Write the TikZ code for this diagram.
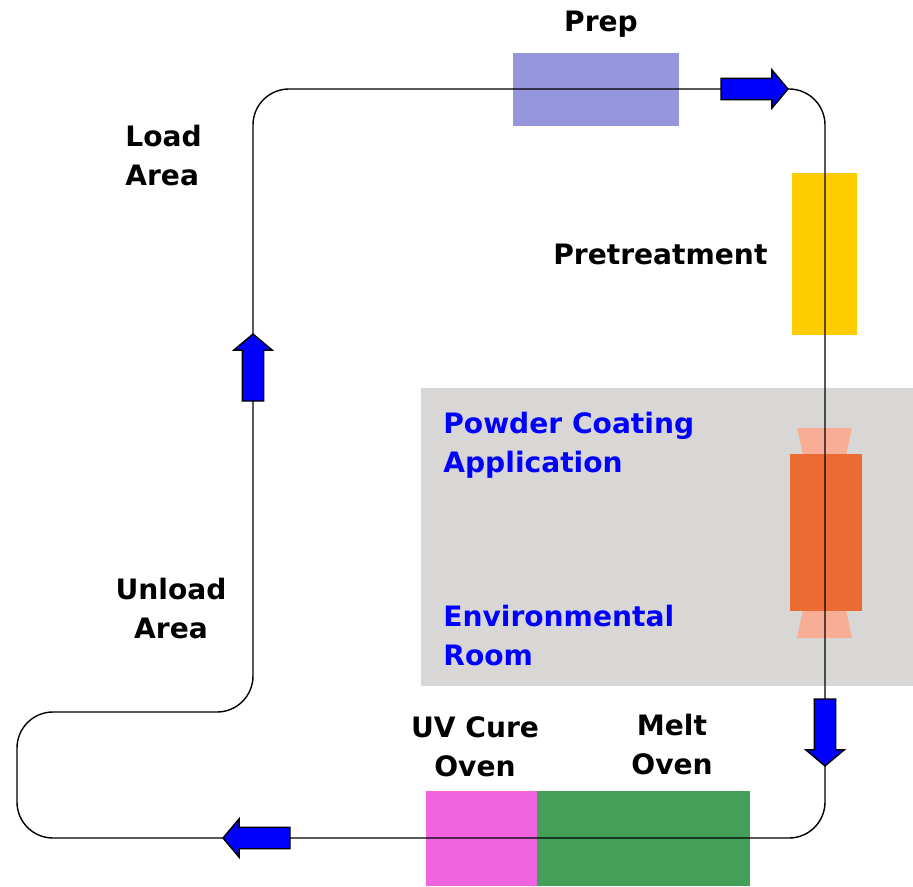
\documentclass[tikz,border=0pt]{standalone}
\usepackage{fontspec}
\setmainfont{DejaVu Sans}
\usepackage{tikz}
\usetikzlibrary{shapes.arrows, positioning}
\definecolor{myblue}{RGB}{0,0,255}
\definecolor{myprep}{RGB}{150,150,220}
\definecolor{myyellow}{RGB}{255,204,0}
\definecolor{myroom}{RGB}{217,215,213}
\definecolor{myorange}{RGB}{236,106,52}
\definecolor{mysalmon}{RGB}{248,174,148}
\definecolor{mypink}{RGB}{240,100,224}
\definecolor{mygreen}{RGB}{68,160,88}
\tikzset{
  station/.style={rectangle, draw=none, inner sep=0pt},
  lbl/.style={font=\fontsize{16}{22}\selectfont\bfseries, inner sep=0pt},
  bluelbl/.style={lbl, text=myblue},
  flow/.style={single arrow, fill=myblue, draw=black, line width=0.8pt,
    minimum height=1.34cm, minimum width=0.74cm, single arrow tip angle=100,
    single arrow head extend=0.17cm, inner xsep=0pt, inner ysep=0.2cm},
  conveyor/.style={draw=black, line width=0.8pt, rounded corners=0.72cm}
}

\begin{document}
\begin{tikzpicture}[x=0.02cm, y=-0.02cm]
  \useasboundingbox (0,0) rectangle (913,886);

  % coating room
  \node[station, fill=myroom, minimum width=9.84cm, minimum height=5.96cm] (room) at (667,537) {};

  % stations
  \node[station, fill=myprep, minimum width=3.32cm, minimum height=1.46cm] (prep) at (596,89.5) {};
  \node[station, fill=myyellow, minimum width=1.3cm, minimum height=3.24cm] (pretreat) at (824.5,254) {};
  \fill[mysalmon] (797,428) -- (852,428) -- (846,455) -- (803,455) -- cycle;
  \fill[mysalmon] (803,610) -- (846,610) -- (852,638) -- (797,638) -- cycle;
  \node[station, fill=myorange, minimum width=1.44cm, minimum height=3.14cm] (booth) at (826,532.5) {};
  \node[station, fill=mypink, minimum width=2.22cm, minimum height=1.9cm] (uvoven) at (481.5,838.5) {};
  \node[station, fill=mygreen, minimum width=4.26cm, minimum height=1.9cm] (meltoven) at (643.5,838.5) {};

  % conveyor loop
  \coordinate (start) at (400,89);
  \coordinate (tr) at (825,89);
  \coordinate (br) at (825,838);
  \coordinate (bl) at (17,838);
  \coordinate (ml) at (17,712);
  \coordinate (mr) at (253,712);
  \coordinate (tl) at (253,89);
  \draw[conveyor] (start) -- (tr) -- (br) -- (bl) -- (ml) -- (mr) -- (tl) -- (start);

  % direction arrows
  \node[flow] (fwdtop) at (750,89) {};
  \node[flow, rotate=-90] (fwdright) at (825,728) {};
  \node[flow, rotate=180] (fwdbottom) at (261,838) {};
  \node[flow, rotate=90] (fwdleft) at (253,372) {};

  % labels
  \node[lbl, anchor=base] (preplbl) at (601,31) {Prep};
  \node[lbl, anchor=base west] (pretreatlbl) at (553,264) {Pretreatment};
  \node[lbl, align=left, anchor=base west] (loadlbl) at (125,185) {Load\\Area};
  \node[lbl, align=center, anchor=base] (unloadlbl) at (171,638) {Unload\\Area};
  \node[bluelbl, align=left, anchor=base west] (coatlbl) at (443,472) {Powder Coating\\Application};
  \node[bluelbl, align=left, anchor=base west] (envlbl) at (443,665) {Environmental\\Room};
  \node[lbl, align=center, anchor=base] (uvlbl) at (475,776) {UV Cure\\Oven};
  \node[lbl, align=center, anchor=base] (meltlbl) at (672,774) {Melt\\Oven};
\end{tikzpicture}
\end{document}
